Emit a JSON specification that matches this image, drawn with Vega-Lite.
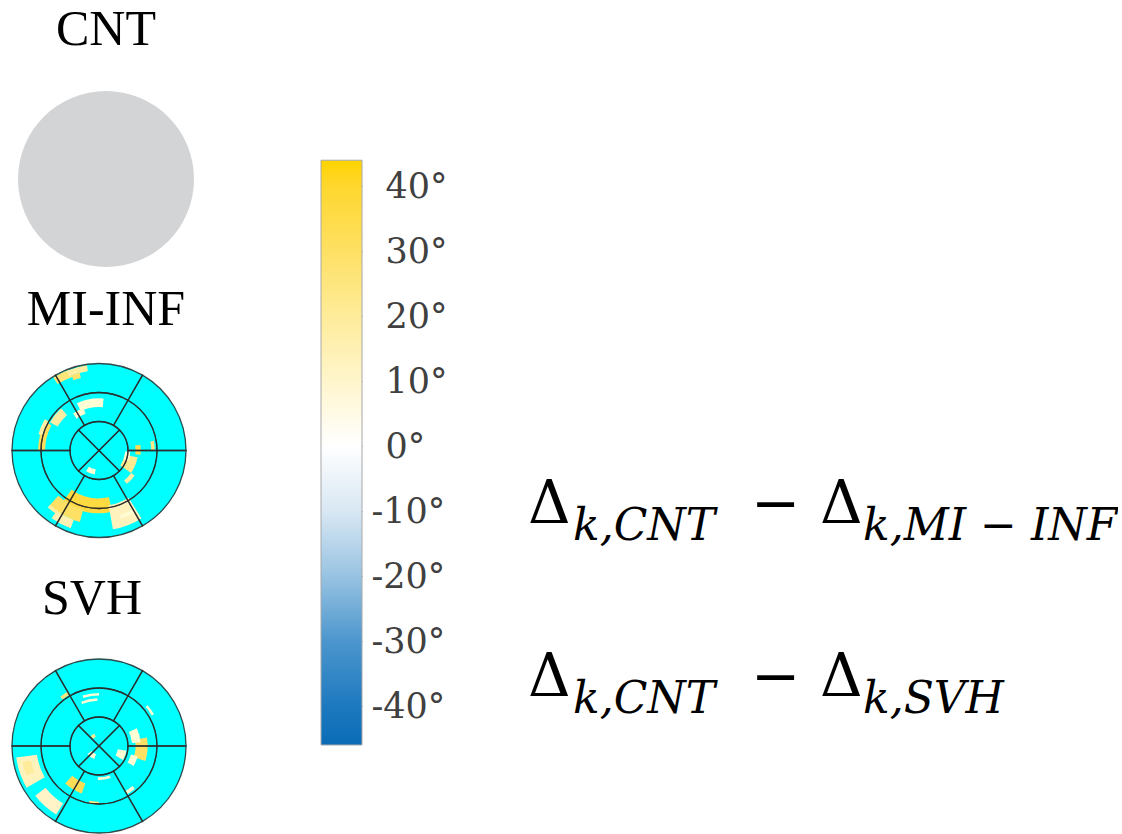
{
  "$schema": "https://vega.github.io/schema/vega-lite/v6.json",
  "padding": {"left": 0, "top": 5, "right": 0, "bottom": 0},
  "background": "white",
  "config": {"view": {"stroke": null}},
  "datasets": {
    "segments": [
      {"ring": "outer", "t0": -30, "t1": 30, "r0": 0.6667, "r1": 1},
      {"ring": "outer", "t0": 30, "t1": 90, "r0": 0.6667, "r1": 1},
      {"ring": "outer", "t0": 90, "t1": 150, "r0": 0.6667, "r1": 1},
      {"ring": "outer", "t0": 150, "t1": 210, "r0": 0.6667, "r1": 1},
      {"ring": "outer", "t0": 210, "t1": 270, "r0": 0.6667, "r1": 1},
      {"ring": "outer", "t0": 270, "t1": 330, "r0": 0.6667, "r1": 1},
      {"ring": "middle", "t0": -30, "t1": 30, "r0": 0.3333, "r1": 0.6667},
      {"ring": "middle", "t0": 30, "t1": 90, "r0": 0.3333, "r1": 0.6667},
      {"ring": "middle", "t0": 90, "t1": 150, "r0": 0.3333, "r1": 0.6667},
      {"ring": "middle", "t0": 150, "t1": 210, "r0": 0.3333, "r1": 0.6667},
      {"ring": "middle", "t0": 210, "t1": 270, "r0": 0.3333, "r1": 0.6667},
      {"ring": "middle", "t0": 270, "t1": 330, "r0": 0.3333, "r1": 0.6667},
      {"ring": "inner", "t0": -45, "t1": 45, "r0": 0, "r1": 0.3333},
      {"ring": "inner", "t0": 45, "t1": 135, "r0": 0, "r1": 0.3333},
      {"ring": "inner", "t0": 135, "t1": 225, "r0": 0, "r1": 0.3333},
      {"ring": "inner", "t0": 225, "t1": 315, "r0": 0, "r1": 0.3333}
    ],
    "mi": [
      {"t0": 328, "t1": 340, "r0": 0.9, "r1": 0.99, "v": 26},
      {"t0": 338, "t1": 352, "r0": 0.92, "r1": 0.99, "v": 18},
      {"t0": 340, "t1": 346, "r0": 0.86, "r1": 0.92, "v": 28},
      {"t0": 335, "t1": 365, "r0": 0.5, "r1": 0.6, "v": 1},
      {"t0": 325, "t1": 340, "r0": 0.45, "r1": 0.52, "v": 3},
      {"t0": 300, "t1": 318, "r0": 0.55, "r1": 0.65, "v": 18},
      {"t0": 270, "t1": 298, "r0": 0.62, "r1": 0.7, "v": 32},
      {"t0": 285, "t1": 300, "r0": 0.66, "r1": 0.72, "v": 18},
      {"t0": 100, "t1": 125, "r0": 0.3, "r1": 0.45, "v": 22},
      {"t0": 92, "t1": 110, "r0": 0.3, "r1": 0.36, "v": 3},
      {"t0": 82, "t1": 96, "r0": 0.42, "r1": 0.48, "v": 34},
      {"t0": 125, "t1": 140, "r0": 0.45, "r1": 0.5, "v": 18},
      {"t0": 80, "t1": 90, "r0": 0.6, "r1": 0.64, "v": 24},
      {"t0": 190, "t1": 212, "r0": 0.22, "r1": 0.28, "v": 1},
      {"t0": 168, "t1": 215, "r0": 0.55, "r1": 0.72, "v": 37},
      {"t0": 195, "t1": 222, "r0": 0.7, "r1": 0.85, "v": 30},
      {"t0": 200, "t1": 215, "r0": 0.85, "r1": 0.95, "v": 15},
      {"t0": 214, "t1": 222, "r0": 0.84, "r1": 0.88, "v": 18},
      {"t0": 148, "t1": 170, "r0": 0.64, "r1": 0.92, "v": 13},
      {"t0": 150, "t1": 162, "r0": 0.78, "r1": 0.82, "v": 3}
    ],
    "svh": [
      {"t0": 240, "t1": 262, "r0": 0.72, "r1": 0.96, "v": 13},
      {"t0": 248, "t1": 258, "r0": 0.8, "r1": 0.9, "v": 20},
      {"t0": 212, "t1": 232, "r0": 0.78, "r1": 0.93, "v": 11},
      {"t0": 200, "t1": 222, "r0": 0.46, "r1": 0.58, "v": 33},
      {"t0": 80, "t1": 108, "r0": 0.42, "r1": 0.56, "v": 30},
      {"t0": 65, "t1": 85, "r0": 0.38, "r1": 0.48, "v": 2},
      {"t0": 105, "t1": 120, "r0": 0.38, "r1": 0.46, "v": 3},
      {"t0": 338, "t1": 358, "r0": 0.52, "r1": 0.55, "v": 0},
      {"t0": 342, "t1": 360, "r0": 0.58, "r1": 0.61, "v": 0},
      {"t0": 322, "t1": 330, "r0": 0.68, "r1": 0.72, "v": 26},
      {"t0": 50, "t1": 60, "r0": 0.7, "r1": 0.73, "v": 2},
      {"t0": 160, "t1": 182, "r0": 0.36, "r1": 0.39, "v": 1},
      {"t0": 140, "t1": 150, "r0": 0.6, "r1": 0.64, "v": 3},
      {"t0": 200, "t1": 235, "r0": 0.1, "r1": 0.16, "v": 2},
      {"t0": 320, "t1": 340, "r0": 0.11, "r1": 0.15, "v": 22},
      {"t0": 100, "t1": 120, "r0": 0.22, "r1": 0.32, "v": 2},
      {"t0": 180, "t1": 190, "r0": 0.64, "r1": 0.67, "v": 24}
    ],
    "formulas": [
      {"formula": "MI-INF", "lead": "Δ", "sub1": "k,CNT", "op": "−", "sub2": "k,MI − INF"},
      {"formula": "SVH", "lead": "Δ", "sub1": "k,CNT", "op": "−", "sub2": "k,SVH"}
    ],
    "colorbar": [{"lo": -46, "hi": 44}]
  },
  "hconcat": [
    {
      "vconcat": [
        {
          "width": 212, "height": 174,
          "title": {"text": "CNT", "font": "Liberation Serif", "fontSize": 50, "fontWeight": "normal", "color": "#000", "baseline": "alphabetic", "offset": -4, "anchor": "middle"},
          "data": {"values": [{"t0": 0, "t1": 360, "r0": 0, "r1": 1}]},
          "mark": {"type": "arc", "fill": "#D3D4D6"},
          "encoding": {
            "theta": {"field": "t0", "type": "quantitative", "stack": null, "scale": {"domain": [0, 360]}},
            "theta2": {"field": "t1"},
            "radius": {"field": "r1", "type": "quantitative", "scale": {"type": "linear", "domain": [0, 1], "range": [0, 88]}},
            "radius2": {"field": "r0"}
          }
        },
        {
          "width": 198, "height": 211,
          "title": {"text": "MI-INF", "font": "Liberation Serif", "fontSize": 50, "fontWeight": "normal", "color": "#000", "baseline": "alphabetic", "offset": -30, "anchor": "middle", "dx": 7},
          "layer": [
            {
              "data": {"name": "segments"},
              "mark": {"type": "arc", "fill": "#00FFFF", "stroke": "#00FFFF", "strokeWidth": 0.5},
              "encoding": {
                "theta": {"field": "t0", "type": "quantitative", "stack": null, "scale": {"domain": [0, 360]}},
                "theta2": {"field": "t1"},
                "radius": {"field": "r1", "type": "quantitative", "scale": {"type": "linear", "domain": [0, 1], "range": [0, 87]}},
                "radius2": {"field": "r0"}
              }
            },
            {
              "data": {"name": "mi"},
              "mark": {"type": "arc"},
              "encoding": {
                "theta": {"field": "t0", "type": "quantitative", "stack": null, "scale": {"domain": [0, 360]}},
                "theta2": {"field": "t1"},
                "radius": {"field": "r1", "type": "quantitative", "scale": {"type": "linear", "domain": [0, 1], "range": [0, 87]}},
                "radius2": {"field": "r0"},
                "color": {"field": "v", "type": "quantitative", "legend": null,
                  "scale": {"domain": [-46, -40, -30, -20, -10, 0, 10, 20, 30, 40, 44],
                    "range": ["#0A6CB6", "#1D79BF", "#4C96CD", "#98C3E2", "#D8E7F3", "#FFFFFF", "#FFF5CC", "#FEEC9A", "#FEE064", "#FFD72E", "#FFD400"]}}
              }
            },
            {
              "data": {"name": "segments"},
              "mark": {"type": "arc", "fillOpacity": 0, "stroke": "#2a2a2a", "strokeWidth": 1.3, "strokeOpacity": 0.85},
              "encoding": {
                "theta": {"field": "t0", "type": "quantitative", "stack": null, "scale": {"domain": [0, 360]}},
                "theta2": {"field": "t1"},
                "radius": {"field": "r1", "type": "quantitative", "scale": {"type": "linear", "domain": [0, 1], "range": [0, 87]}},
                "radius2": {"field": "r0"}
              }
            }
          ]
        },
        {
          "width": 198, "height": 174,
          "title": {"text": "SVH", "font": "Liberation Serif", "fontSize": 50, "fontWeight": "normal", "color": "#000", "baseline": "alphabetic", "offset": -8, "anchor": "middle", "dx": -7},
          "layer": [
            {
              "data": {"name": "segments"},
              "mark": {"type": "arc", "fill": "#00FFFF", "stroke": "#00FFFF", "strokeWidth": 0.5},
              "encoding": {
                "theta": {"field": "t0", "type": "quantitative", "stack": null, "scale": {"domain": [0, 360]}},
                "theta2": {"field": "t1"},
                "radius": {"field": "r1", "type": "quantitative", "scale": {"type": "linear", "domain": [0, 1], "range": [0, 87]}},
                "radius2": {"field": "r0"}
              }
            },
            {
              "data": {"name": "svh"},
              "mark": {"type": "arc"},
              "encoding": {
                "theta": {"field": "t0", "type": "quantitative", "stack": null, "scale": {"domain": [0, 360]}},
                "theta2": {"field": "t1"},
                "radius": {"field": "r1", "type": "quantitative", "scale": {"type": "linear", "domain": [0, 1], "range": [0, 87]}},
                "radius2": {"field": "r0"},
                "color": {"field": "v", "type": "quantitative", "legend": null,
                  "scale": {"domain": [-46, -40, -30, -20, -10, 0, 10, 20, 30, 40, 44],
                    "range": ["#0A6CB6", "#1D79BF", "#4C96CD", "#98C3E2", "#D8E7F3", "#FFFFFF", "#FFF5CC", "#FEEC9A", "#FEE064", "#FFD72E", "#FFD400"]}}
              }
            },
            {
              "data": {"name": "segments"},
              "mark": {"type": "arc", "fillOpacity": 0, "stroke": "#2a2a2a", "strokeWidth": 1.3, "strokeOpacity": 0.85},
              "encoding": {
                "theta": {"field": "t0", "type": "quantitative", "stack": null, "scale": {"domain": [0, 360]}},
                "theta2": {"field": "t1"},
                "radius": {"field": "r1", "type": "quantitative", "scale": {"type": "linear", "domain": [0, 1], "range": [0, 87]}},
                "radius2": {"field": "r0"}
              }
            }
          ]
        }
      ],
      "spacing": 18
    },
    {
      "hconcat": [
        {
          "width": 41, "height": 653,
          "data": {"name": "colorbar"},
          "mark": {"type": "rect", "stroke": "#a8a8a8", "strokeWidth": 1,
            "fill": {"gradient": "linear", "x1": 0, "y1": 1, "x2": 0, "y2": 0,
              "stops": [
                {"offset": 0, "color": "#0A6CB6"},
                {"offset": 0.0667, "color": "#1D79BF"},
                {"offset": 0.178, "color": "#4C96CD"},
                {"offset": 0.289, "color": "#98C3E2"},
                {"offset": 0.4, "color": "#D8E7F3"},
                {"offset": 0.511, "color": "#FFFFFF"},
                {"offset": 0.622, "color": "#FFF5CC"},
                {"offset": 0.733, "color": "#FEEC9A"},
                {"offset": 0.844, "color": "#FEE064"},
                {"offset": 0.956, "color": "#FFD72E"},
                {"offset": 1, "color": "#FFD400"}
              ]}},
          "encoding": {
            "y": {"field": "lo", "type": "quantitative",
              "scale": {"domain": [-46, 54.5], "nice": false, "zero": false},
              "axis": {"orient": "right", "values": [-40, -30, -20, -10, 0, 10, 20, 30, 40],
                "labelExpr": "datum.value + '°'",
                "labelFont": "DejaVu Serif", "labelFontSize": 35, "labelColor": "#404040",
                "labelAlign": "left", "labelBaseline": "middle",
                "labelPadding": {"condition": {"test": "datum.value < 0", "value": 16}, "value": 30},
                "tickSize": -7, "tickColor": "#7a7a7a", "tickWidth": 1,
                "domain": false, "grid": false, "title": null}},
            "y2": {"field": "hi"}
          }
        },
        {
          "width": 560, "height": 690,
          "data": {"name": "formulas"},
          "encoding": {
            "y": {"field": "formula", "type": "nominal", "scale": {"type": "band", "paddingInner": 0, "paddingOuter": 1, "align": 1}, "axis": null},
            "x": {"value": 0}
          },
          "layer": [
            {"mark": {"type": "text", "font": "DejaVu Serif", "fontSize": 59, "align": "left", "baseline": "alphabetic", "color": "#000"},
              "encoding": {"text": {"field": "lead"}}},
            {"mark": {"type": "text", "font": "DejaVu Serif", "fontStyle": "italic", "fontSize": 44, "align": "left", "baseline": "alphabetic", "color": "#000", "dx": 45, "dy": 17},
              "encoding": {"text": {"field": "sub1"}}},
            {"mark": {"type": "text", "font": "DejaVu Serif", "fontSize": 59, "align": "left", "baseline": "alphabetic", "color": "#000", "dx": 223},
              "encoding": {"text": {"field": "op"}}},
            {"mark": {"type": "text", "font": "DejaVu Serif", "fontSize": 59, "align": "left", "baseline": "alphabetic", "color": "#000", "dx": 292},
              "encoding": {"text": {"field": "lead"}}},
            {"mark": {"type": "text", "font": "DejaVu Serif", "fontStyle": "italic", "fontSize": 44, "align": "left", "baseline": "alphabetic", "color": "#000", "dx": 335, "dy": 17},
              "encoding": {"text": {"field": "sub2"}}}
          ]
        }
      ],
      "spacing": 80
    }
  ],
  "spacing": 108
}
